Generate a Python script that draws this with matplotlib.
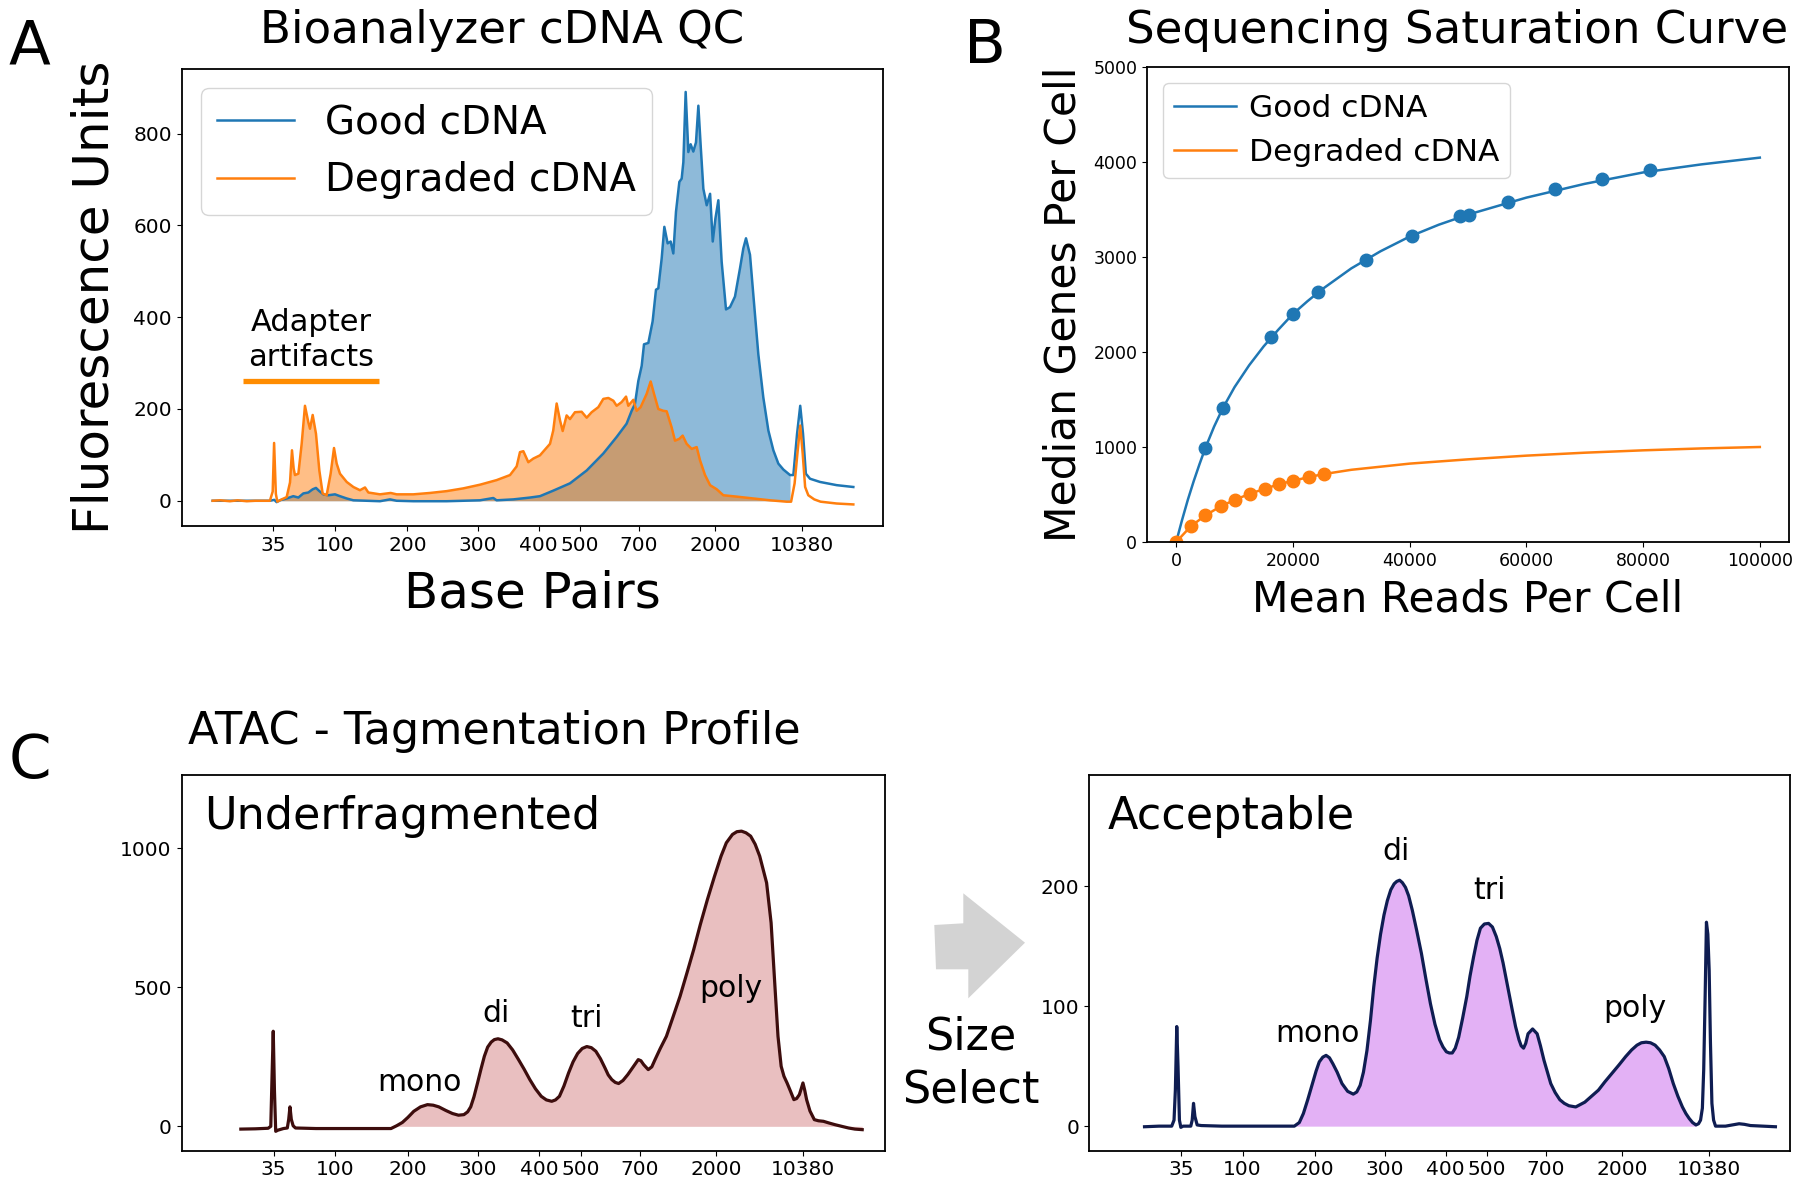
import numpy as np
import matplotlib
matplotlib.use("Agg")
import matplotlib.pyplot as plt
from matplotlib.patches import Polygon

# ---------------- shared base-pair axis (ladder positions) ----------------
bp_tick_pos = [13.1, 21.9, 32.2, 42.2, 50.9, 56.8, 65.2, 76.1, 88.4]
bp_tick_labels = ["35", "100", "200", "300", "400", "500", "700", "2000", "10380"]

# ---------------- Panel A : Bioanalyzer cDNA QC ----------------
good_pos = [4.44, 8.0, 12.62, 13.23, 13.56, 14.04, 14.99, 15.94, 16.66, 17.37, 18.08, 18.7,
            19.17, 19.65, 20.22, 20.93, 21.88, 22.59, 23.55, 24.5, 26.4, 28.29, 29.72, 30.67,
            33.05, 37.8, 42.55, 44.45, 44.92, 47.3, 49.68, 51.1, 52.99, 55.38, 57.76, 60.13,
            62.03, 63.45, 64.17, 64.64, 65.12, 65.6, 65.93, 66.55, 67.16, 67.64, 67.97, 68.45,
            68.83, 69.3, 69.73, 70.11, 70.49, 70.97, 71.3, 71.54, 71.87, 72.25, 72.58, 72.96,
            73.34, 73.68, 74.01, 74.39, 74.87, 75.35, 75.73, 76.11, 76.53, 77.0, 77.62, 78.19,
            78.9, 79.62, 80.09, 80.47, 81.04, 81.75, 82.23, 82.94, 83.66, 84.37, 85.08, 85.8,
            86.75, 87.22, 87.75, 88.2, 88.6, 89.0, 89.6, 91.02, 93.4, 95.77]
good_fu = [0, 0, 0, 2, -3, 1, 5, 10, 7, 16, 18, 25,
           28, 21, 14, 12, 14, 10, 5, 1, 0, -1, 3, 0,
           -1, -1, 1, 6, 1, 3, 7, 10, 22, 38, 66, 103,
           139, 168, 196, 211, 261, 294, 341, 344, 391, 460, 463, 528,
           597, 561, 565, 539, 630, 695, 702, 738, 891, 760, 777, 761,
           781, 861, 774, 680, 644, 669, 565, 615, 655, 521, 417, 422,
           445, 507, 550, 572, 536, 406, 319, 225, 153, 110, 81, 68,
           56, 56, 146, 207, 146, 59, 48, 41, 34, 30]

deg_pos = [4.44, 5.5, 6.9, 8.0, 9.3, 10.5, 11.7, 12.6, 13.0, 13.2, 13.45, 13.66, 14.28, 14.99,
           15.47, 15.75, 15.99, 16.18, 16.66, 17.13, 17.6, 18.08, 18.32, 18.7, 19.17, 19.65,
           20.12, 20.69, 21.26, 21.74, 22.12, 22.59, 23.55, 24.5, 25.44, 26.16, 26.63, 28.29,
           29.82, 30.67, 33.05, 35.42, 37.8, 40.17, 42.55, 44.92, 46.83, 47.78, 48.25, 48.73,
           49.44, 50.16, 51.1, 52.53, 52.99, 53.48, 53.96, 54.34, 54.9, 55.38, 56.09, 57.04,
           57.76, 58.47, 59.42, 60.13, 60.85, 61.56, 62.03, 62.74, 63.37, 63.69, 64.41, 64.88,
           65.45, 66.31, 66.88, 67.36, 67.97, 68.69, 69.16, 69.87, 70.35, 70.97, 71.44, 72.01,
           72.73, 73.44, 73.92, 74.63, 75.35, 76.3, 77.24, 79.15, 81.51, 83.89, 86.27, 86.9,
           87.4, 87.8, 88.2, 88.55, 88.9, 89.35, 90.2, 91.1, 93.4, 95.77]
deg_fu = [0, 1, -1, 1, -1, 0, 0, 0, 20, 126, 15, -2, 3, 8,
          40, 110, 70, 56, 59, 124, 207, 171, 157, 187, 146, 66,
          16, 12, 59, 115, 81, 59, 41, 30, 23, 29, 18, 14,
          17, 14, 14, 17, 21, 27, 35, 45, 56, 75, 106, 108,
          84, 92, 99, 124, 153, 212, 175, 152, 186, 178, 193, 194,
          181, 193, 204, 222, 224, 218, 207, 215, 227, 207, 220, 196,
          204, 233, 260, 233, 200, 196, 195, 160, 131, 135, 142, 124,
          113, 117, 88, 56, 34, 25, 12, 9, 5, 1, -2, -2,
          38, 103, 164, 103, 30, 12, 3, -2, -6, -8]

# ---------------- Panel B : sequencing saturation ----------------
good_reads = [5000, 8100, 16200, 20000, 24300, 32500, 40400, 48600, 50100, 56800, 64900, 73000, 81100]
good_genes = [990, 1410, 2155, 2400, 2630, 2970, 3225, 3430, 3446, 3575, 3712, 3820, 3912]
good_fit_reads = [0, 1000, 2000, 3000, 4000, 5000, 6500, 8000, 10000, 12500, 15000, 17500, 20000,
                  22500, 25000, 30000, 35000, 40000, 45000, 50000, 60000, 70000, 80000, 90000, 100000]
good_fit_genes = [0, 230, 445, 640, 820, 990, 1215, 1410, 1630, 1860, 2060, 2235, 2400,
                  2535, 2660, 2880, 3060, 3215, 3340, 3446, 3625, 3770, 3890, 3975, 4046]

deg_reads = [0, 2500, 5000, 7600, 10100, 12700, 15200, 17700, 20100, 22800, 25300]
deg_genes = [0, 165, 280, 375, 445, 510, 560, 610, 645, 685, 715]
deg_fit_reads = [0, 2500, 5000, 7600, 10100, 12700, 15200, 17700, 20100, 22800, 25300,
                 30000, 40000, 50000, 60000, 70000, 80000, 90000, 100000]
deg_fit_genes = [0, 165, 280, 375, 445, 510, 560, 610, 645, 685, 715,
                 760, 825, 870, 909, 940, 965, 985, 1000]

# ---------------- Panel C : ATAC tagmentation profiles ----------------
under_pos = [8.44, 10.5, 12.32, 12.7, 12.88, 13.05, 13.22, 13.4, 13.7, 14.5, 15.05, 15.25, 15.43,
             15.62, 15.88, 16.21, 19.12, 25.6, 29.8, 30.6, 31.42, 32.2, 33.04, 34.0, 34.99, 35.8,
             36.6, 37.6, 38.55, 39.4, 40.17, 40.7, 41.14, 41.6, 42.11, 42.6, 43.08, 43.55, 44.05,
             44.5, 45.02, 45.6, 46.32, 47.1, 47.94, 48.75, 49.55, 50.35, 51.17, 51.9, 52.66, 53.2,
             53.76, 54.4, 55.06, 55.7, 56.35, 57.0, 57.65, 58.3, 58.94, 59.6, 60.24, 60.7, 61.21,
             61.7, 62.18, 62.8, 63.48, 64.2, 64.97, 65.35, 65.74, 66.39, 66.9, 67.36, 68.1, 68.98,
             69.9, 70.92, 71.9, 72.86, 73.8, 74.81, 75.8, 76.75, 77.5, 78.37, 79.0, 79.66, 80.3,
             80.96, 81.6, 82.25, 83.23, 83.87, 84.39, 84.85, 85.3, 85.7, 86.14, 86.6, 87.11, 87.5,
             87.89, 88.15, 88.4, 88.65, 88.92, 89.4, 90.02, 90.6, 91.32, 92.1, 92.94, 93.9,
             94.88, 95.8, 96.83]
under_fu = [-10, -9, -7, 0, 180, 342, 130, -18, -14, -8, -6, 25, 70,
            25, 2, -6, -8, -8, -8, 2, 14, 32, 54, 70, 78, 76,
            70, 57, 46, 40, 42, 52, 70, 106, 156, 206, 252, 285, 303,
            312, 315, 311, 300, 275, 240, 205, 168, 135, 108, 95, 90, 95,
            108, 145, 192, 232, 262, 280, 287, 283, 270, 243, 210, 185, 168,
            158, 154, 165, 186, 212, 240, 236, 222, 204, 214, 240, 280, 324,
            392, 468, 552, 636, 726, 816, 898, 972, 1020, 1050, 1060, 1062, 1056,
            1044, 1015, 972, 876, 732, 514, 324, 216, 180, 156, 128, 96, 100,
            114, 135, 156, 130, 96, 55, 24, 20, 18, 12, 6, 0,
            -6, -10, -12]

accept_pos = [7.92, 10.0, 11.8, 12.13, 12.32, 12.52, 12.7, 12.9, 13.1, 13.42, 14.52, 14.72, 14.91,
              15.11, 15.43, 16.01, 18.93, 25.0, 29.29, 30.0, 30.58, 31.2, 31.88, 32.4, 32.85, 33.35,
              33.82, 34.3, 34.79, 35.4, 36.09, 36.9, 37.7, 38.2, 38.68, 39.15, 39.65, 40.15, 40.62,
              41.1, 41.59, 42.08, 42.56, 43.05, 43.53, 43.9, 44.31, 44.7, 45.15, 45.6, 46.12, 46.75,
              47.42, 48.05, 48.71, 49.35, 50.01, 50.5, 50.98, 51.4, 51.82, 52.25, 52.73, 53.3, 53.89,
              54.35, 54.86, 55.35, 55.84, 56.4, 57.0, 57.55, 58.1, 58.6, 59.07, 59.7, 60.37, 60.85,
              61.34, 61.65, 61.99, 62.3, 62.63, 63.28, 63.93, 64.4, 64.9, 65.4, 65.87, 66.5, 67.17,
              67.8, 68.46, 69.43, 70.73, 71.7, 72.67, 73.6, 74.61, 75.6, 76.56, 77.4, 78.17, 78.8,
              79.47, 80.1, 80.76, 81.4, 82.06, 82.7, 83.35, 84.0, 84.65, 85.15, 85.62, 86.1, 86.59,
              86.95, 87.24, 87.5, 87.69, 87.9, 88.08, 88.28, 88.47, 88.65, 88.86, 89.1, 89.38,
              90.8, 91.8, 92.74, 93.5, 94.36, 96.0, 97.92]
accept_fu = [-0.5, 0, 0, 5, 30, 83, 50, 5, -1, 0, 0, 5, 19,
             8, 1, 0.5, 0, 0, 0, 3, 10.5, 22, 35.5, 46, 53.6, 57.5,
             59, 57, 52, 45, 35.5, 29, 26.7, 28.5, 34, 45, 63, 88, 116,
             140, 160, 176, 188, 197, 202, 204, 205, 203, 199, 192, 180, 163,
             144, 123, 102, 85, 72, 66, 62, 61, 61, 65, 74, 90, 108,
             125, 141, 155, 165, 168.5, 169, 166, 158, 148, 136, 117, 97, 83,
             72, 67, 65, 69, 77, 81, 77, 67, 55, 45, 35.5, 28, 22,
             19, 17, 16, 20, 25, 30, 37, 44, 51, 58, 63.5, 67.5, 69.5,
             70, 69.5, 67.5, 63.5, 58, 48, 35.5, 25, 16, 10.5, 6.4, 3, 1,
             2, 5, 15, 47, 110, 170, 160, 130, 70, 19, 5, 0,
             0, 1, 2, 1.5, 0.5, 0, -0.5]

peak_names = ["mono", "di", "tri", "poly"]

# ---------------- figure ----------------
W, H = 1800, 1190
fig = plt.figure(figsize=(W / 100, H / 100), dpi=100)


def rect(l, t, r, b):
    return [l / W, 1 - b / H, (r - l) / W, (b - t) / H]


def P(x, y):
    return (x / W, 1 - y / H)


C0, C1 = "#1f77b4", "#ff7f0e"
SPINE_LW = 1.3

# ---- Panel A ----
axA = fig.add_axes(rect(181.5, 69, 883, 526))
gp, gf = np.array(good_pos), np.array(good_fu)
dp, df = np.array(deg_pos), np.array(deg_fu)
mg = (gp >= 13.7) & (gp <= 87.0)
md = (dp >= 13.7) & (dp <= 87.0)
axA.fill_between(gp[mg], gf[mg], 0, color=C0, alpha=0.5, lw=0)
axA.fill_between(dp[md], df[md], 0, color=C1, alpha=0.5, lw=0)
axA.plot(gp, gf, color=C0, lw=1.8, label="Good cDNA")
axA.plot(dp, df, color=C1, lw=1.8, label="Degraded cDNA")
axA.plot([8.72, 28.19], [262, 262], color="#ff8c00", lw=3.8, solid_capstyle="butt")
axA.text(18.46, 371, "Adapter", ha="center", va="baseline", fontsize=22)
axA.text(18.46, 294, "artifacts", ha="center", va="baseline", fontsize=22)
axA.set_xlim(0, 100)
axA.set_ylim(-55, 941)
axA.set_yticks([0, 200, 400, 600, 800])
axA.set_xticks(bp_tick_pos)
axA.set_xticklabels(bp_tick_labels)
axA.tick_params(labelsize=14.5)
axA.legend(loc="upper left", fontsize=28)

# ---- Panel B ----
axB = fig.add_axes(rect(1147, 67, 1789, 542))
axB.plot(good_fit_reads, good_fit_genes, color=C0, lw=1.8, label="Good cDNA")
axB.plot(good_reads, good_genes, "o", color=C0, ms=9)
axB.plot(deg_fit_reads, deg_fit_genes, color=C1, lw=1.8, label="Degraded cDNA")
axB.plot(deg_reads, deg_genes, "o", color=C1, ms=9)
axB.set_xlim(-5000, 105000)
axB.set_ylim(0, 5000)
axB.set_xticks([0, 20000, 40000, 60000, 80000, 100000])
axB.set_yticks([0, 1000, 2000, 3000, 4000, 5000])
axB.tick_params(labelsize=12.5)
axB.legend(loc="upper left", fontsize=22.5, handletextpad=0.4, borderpad=0.35)

# ---- Panel C ----
axC1 = fig.add_axes(rect(181.5, 775, 884.5, 1150.5))
up, uf = np.array(under_pos), np.array(under_fu)
mu = (up >= 29.5) & (up <= 97)
axC1.fill_between(up[mu], uf[mu], 0, color="#e9bfc0", lw=0)
axC1.plot(up, uf, color="#3d0d0d", lw=2.3)
axC1.set_ylim(-87, 1264)
axC1.set_yticks([0, 500, 1000])
c1_label_xy = [(33.86, 128), (44.74, 375), (57.54, 357), (78.16, 466)]
for name, (x, y) in zip(peak_names, c1_label_xy):
    axC1.text(x, y, name, ha="center", va="baseline", fontsize=21.5)

axC2 = fig.add_axes(rect(1089, 775, 1790, 1150.5))
ap, af = np.array(accept_pos), np.array(accept_fu)
ma = (ap >= 29.2) & (ap <= 86.8)
axC2.fill_between(ap[ma], af[ma], 0, color="#e3b1f5", lw=0)
axC2.plot(ap, af, color="#0f1d52", lw=2.3)
axC2.set_ylim(-20.3, 292.7)
axC2.set_yticks([0, 100, 200])
c2_label_xy = [(32.6, 70.3), (43.85, 222), (57.1, 189), (77.9, 91)]
for name, (x, y) in zip(peak_names, c2_label_xy):
    axC2.text(x, y, name, ha="center", va="baseline", fontsize=21.5)

for ax in (axC1, axC2):
    ax.set_xlim(0, 100)
    ax.set_xticks(bp_tick_pos)
    ax.set_xticklabels(bp_tick_labels)
    ax.tick_params(labelsize=14.5)

for ax in (axA, axB, axC1, axC2):
    for s in ax.spines.values():
        s.set_linewidth(SPINE_LW)

# ---- figure-level text ----
fig.text(*P(9, 63), "A", fontsize=44, ha="left", va="baseline")
fig.text(*P(964, 63), "B", fontsize=44, ha="left", va="baseline")
fig.text(*P(9, 778), "C", fontsize=44, ha="left", va="baseline")

fig.text(*P(502, 42.5), "Bioanalyzer cDNA QC", fontsize=32.5, ha="center", va="baseline")
fig.text(*P(1457, 42.5), "Sequencing Saturation Curve", fontsize=32.5, ha="center", va="baseline")
fig.text(*P(188, 744), "ATAC - Tagmentation Profile", fontsize=32, ha="left", va="baseline")

fig.text(*P(95, 297.5), "Fluorescence Units", fontsize=36, rotation=90, ha="center", va="center")
fig.text(*P(532, 608), "Base Pairs", fontsize=36, ha="center", va="baseline")
fig.text(*P(1064, 304.5), "Median Genes Per Cell", fontsize=30.5, rotation=90, ha="center", va="center")
fig.text(*P(1468, 612), "Mean Reads Per Cell", fontsize=30.5, ha="center", va="baseline")

fig.text(*P(204, 829), "Underfragmented", fontsize=32, ha="left", va="baseline")
fig.text(*P(1108, 829), "Acceptable", fontsize=32, ha="left", va="baseline")

fig.text(*P(971, 1050), "Size", fontsize=32, ha="center", va="baseline")
fig.text(*P(971, 1102.5), "Select", fontsize=32, ha="center", va="baseline")

arrow_px = [(934.3, 925), (963.3, 923.3), (963.3, 893.3), (1025, 942.7),
            (968.3, 998.3), (968.3, 969.3), (936, 969.3)]
fig.patches.append(Polygon([P(x, y) for x, y in arrow_px], closed=True,
                           transform=fig.transFigure, facecolor="#d3d3d3",
                           edgecolor="none"))

fig.savefig("out.png", dpi=100)
